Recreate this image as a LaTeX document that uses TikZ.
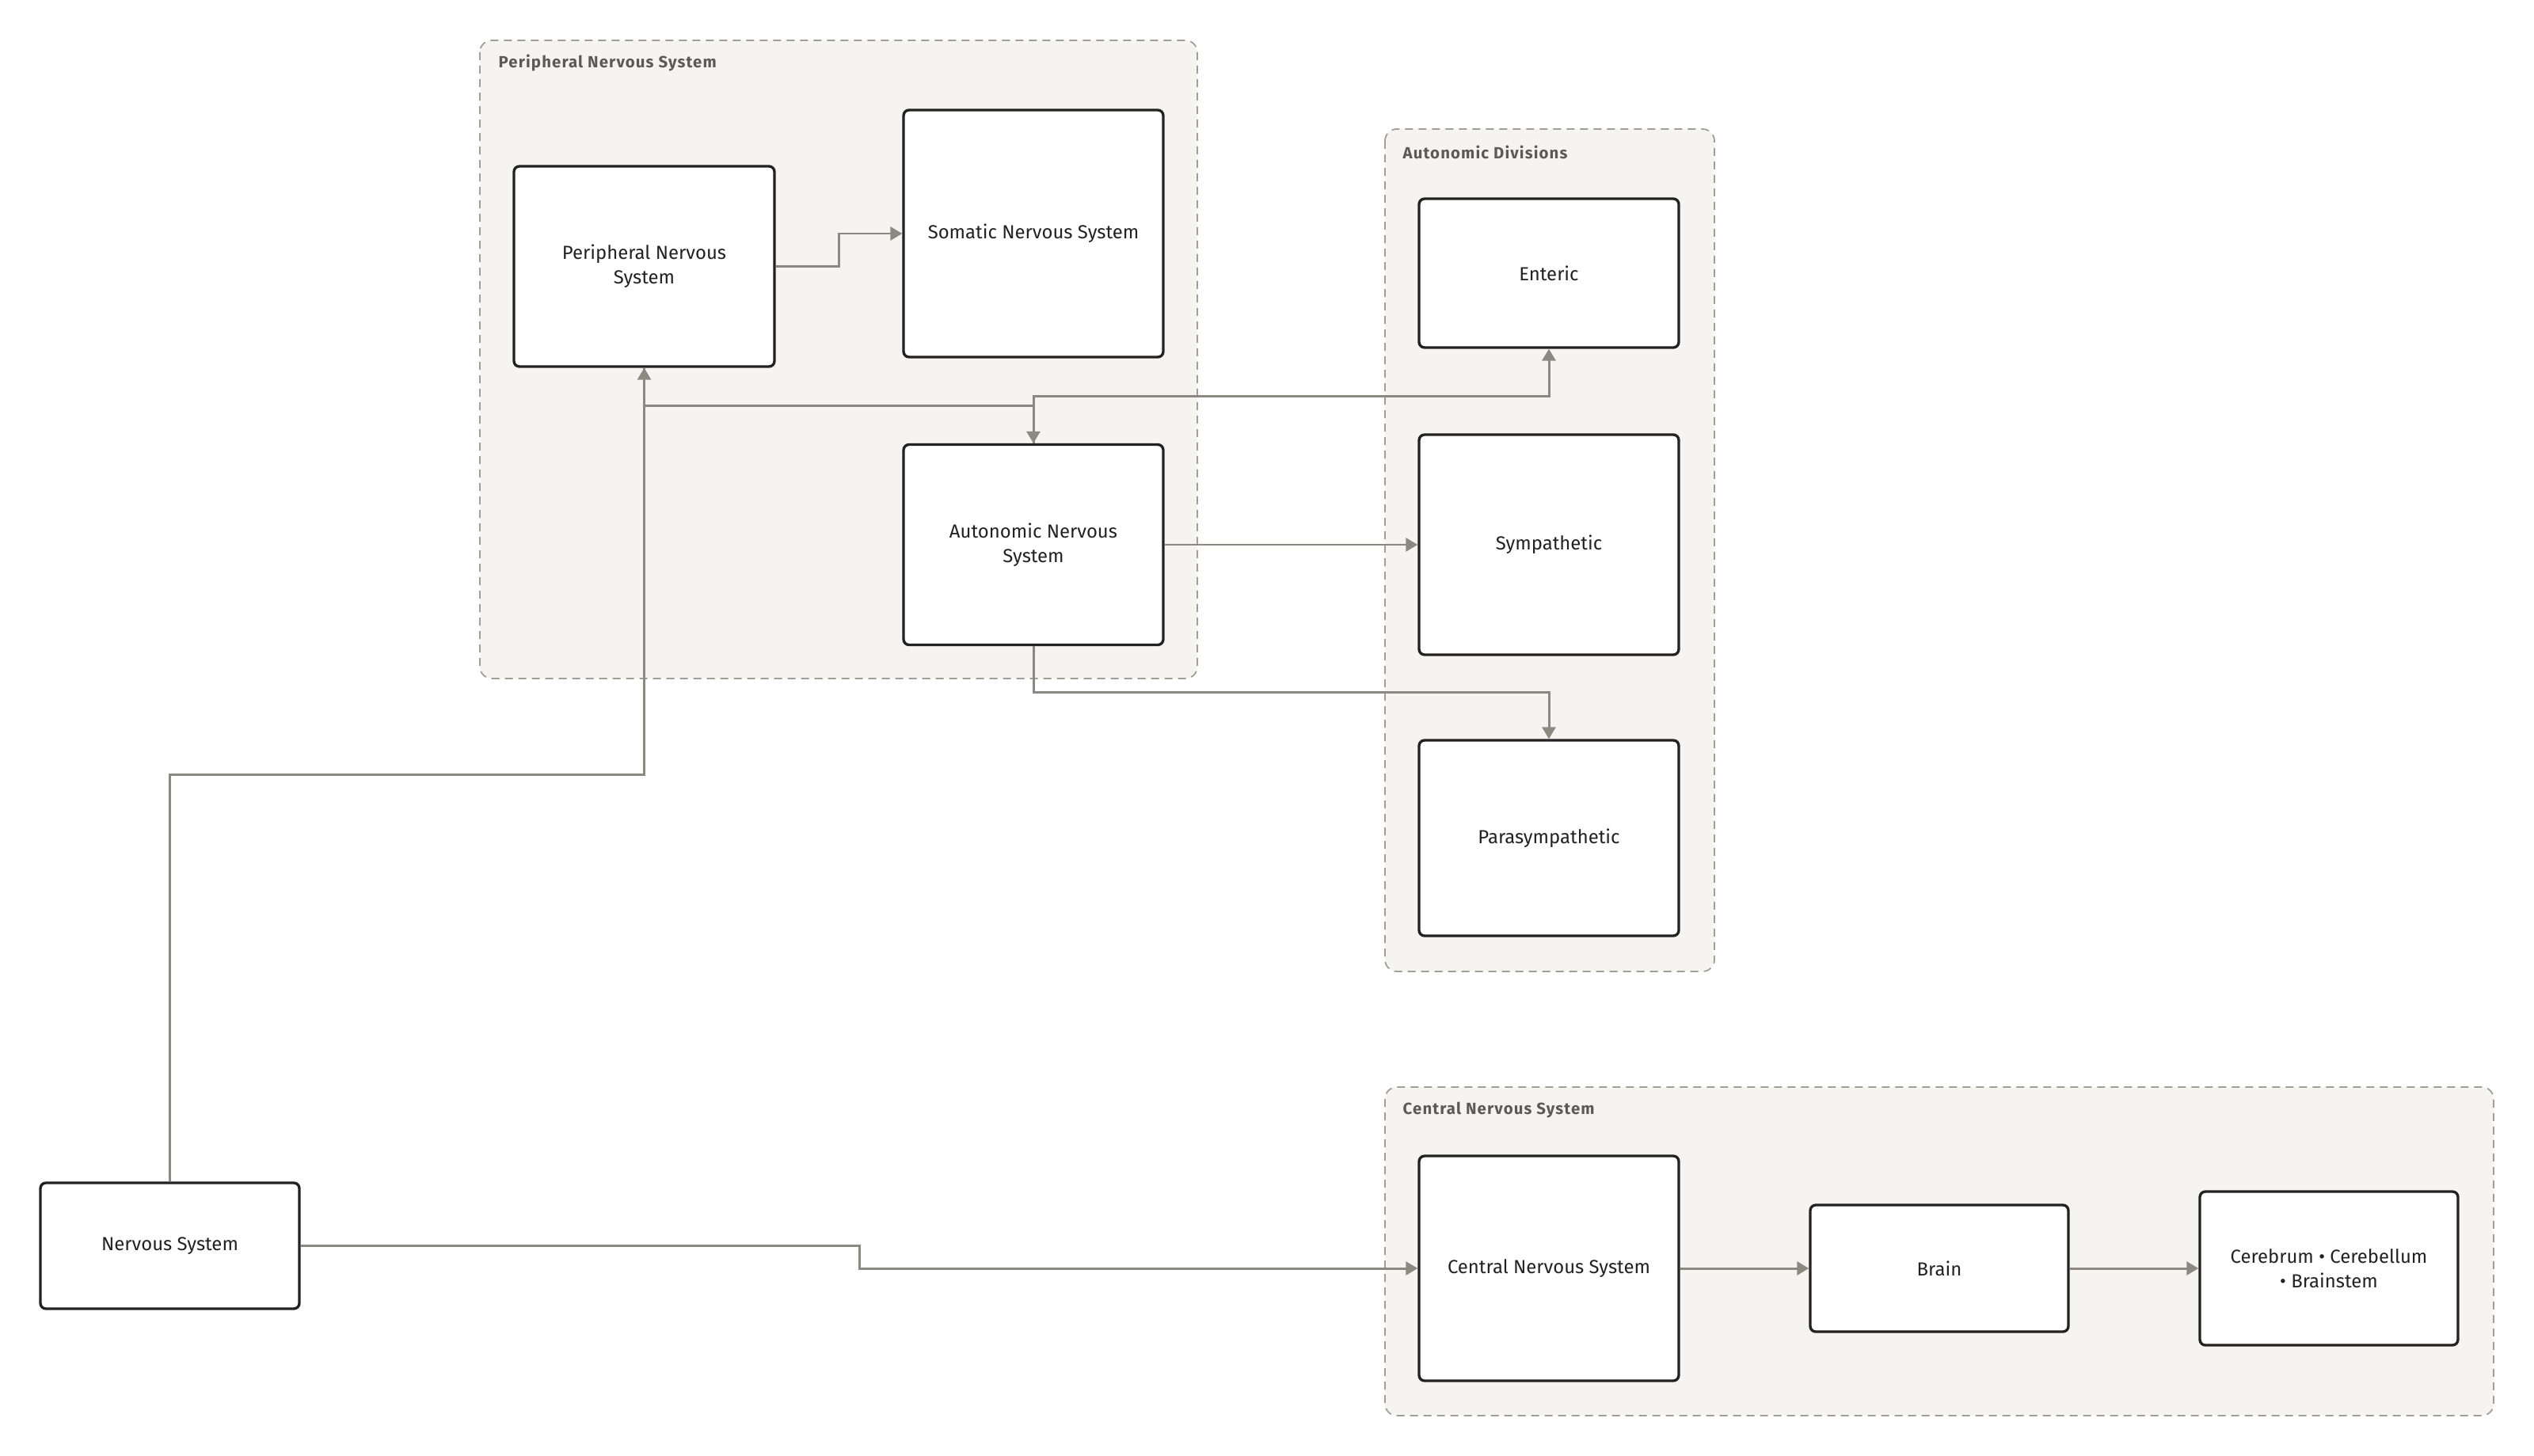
\documentclass[tikz,border=0pt]{standalone}
\usepackage{fontspec}
\setmainfont{Fira Sans}
\newfontfamily\grpfont[LetterSpace=5.5]{Fira Sans}
\usetikzlibrary{arrows.meta,calc}

\definecolor{grpfill}{HTML}{F5F4F0}
\definecolor{grpline}{HTML}{A19E97}
\definecolor{wiregray}{HTML}{8C8982}
\definecolor{inkdark}{HTML}{222222}
\definecolor{lblgray}{HTML}{5C5A55}

\begin{document}
\begin{tikzpicture}[y=-1cm,
    box/.style={draw=inkdark, line width=0.95pt, fill=white, rounded corners=0.07cm,
        align=center, text=inkdark, font=\fontsize{6.8}{8.7}\selectfont,
        inner sep=0pt, minimum width=3.28cm},
    group/.style={draw=grpline, fill=grpfill, dash pattern=on 0.1cm off 0.07cm,
        line width=0.5pt, rounded corners=0.15cm},
    grouplabel/.style={anchor=west, text=lblgray, inner sep=0pt,
        font=\grpfont\fontsize{5.8}{7}\selectfont\bfseries},
    wire/.style={draw=wiregray, line width=0.85pt,
        -{Triangle[length=0.15cm,width=0.17cm]}}
]
    \useasboundingbox (0,0) rectangle (32,18.39);

    % Draw groups
    \draw[group] (6.06,0.51) rectangle (15.12,8.57);
    \node[grouplabel] (pnslbl) at (6.29,0.80) {Peripheral Nervous System};
    \draw[group] (17.49,1.63) rectangle (21.65,12.27);
    \node[grouplabel] (adlbl) at (17.71,1.92) {Autonomic Divisions};
    \draw[group] (17.49,13.73) rectangle (31.49,17.88);
    \node[grouplabel] (cnslbl) at (17.71,14.02) {Central Nervous System};

    % Draw nodes
    \node[box, minimum width=3.27cm, minimum height=1.59cm] (ns) at (2.145,15.735) {Nervous System};
    \node[box, minimum width=3.29cm, minimum height=2.53cm] (pns) at (8.135,3.365) {Peripheral Nervous\\System};
    \node[box, minimum height=3.12cm] (somatic) at (13.05,2.95) {Somatic Nervous System};
    \node[box, minimum height=2.53cm] (ans) at (13.05,6.88) {Autonomic Nervous\\System};
    \node[box, minimum height=1.88cm] (enteric) at (19.56,3.45) {Enteric};
    \node[box, minimum height=2.78cm] (symp) at (19.56,6.88) {Sympathetic};
    \node[box, minimum height=2.47cm] (para) at (19.56,10.585) {Parasympathetic};
    \node[box, minimum height=2.84cm] (cns) at (19.56,16.02) {Central Nervous System};
    \node[box, minimum width=3.26cm, minimum height=1.60cm] (brain) at (24.49,16.02) {Brain};
    \node[box, minimum width=3.26cm, minimum height=1.94cm] (cereb) at (29.41,16.02) {Cerebrum • Cerebellum\\• Brainstem};

    % Draw connectors
    \draw[wire] (ns.north) |- ($(ns.north)!.5!(pns.south)$) -| (pns.south);
    \draw[wire] (pns.east) -| ($(pns.east)!.5!(somatic.west)$) |- (somatic.west);
    \draw[wire] (pns.south) |- ($(pns.south)!.5!(ans.north)$) -| (ans.north);
    \draw[wire] (ans.north) |- ($(ans.north)!.5!(enteric.south)$) -| (enteric.south);
    \draw[wire] (ans.east) -- (symp.west);
    \draw[wire] (ans.south) |- ($(ans.south)!.5!(para.north)$) -| (para.north);
    \draw[wire] (ns.east) -| ($(ns.east)!.5!(cns.west)$) |- (cns.west);
    \draw[wire] (cns.east) -- (brain.west);
    \draw[wire] (brain.east) -- (cereb.west);
\end{tikzpicture}
\end{document}
